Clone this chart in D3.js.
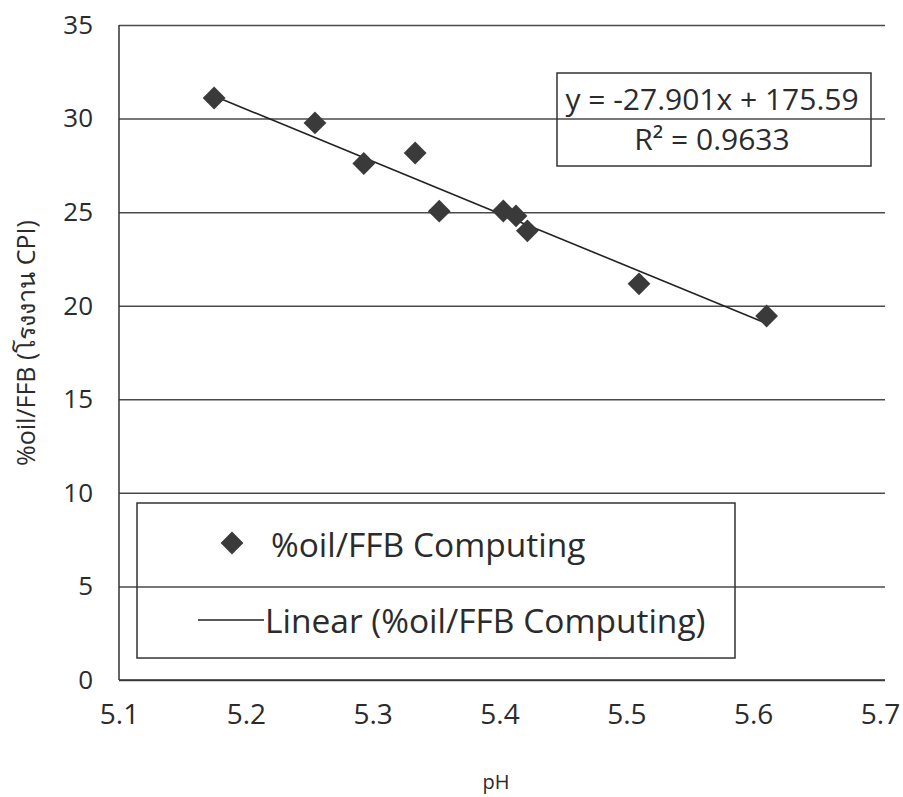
<!DOCTYPE html>
<html>
<head>
<meta charset="utf-8">
<script src="https://cdn.jsdelivr.net/npm/d3@7"></script>
<style>
  body { margin: 0; background: #fff; }
  svg { display: block; }
  text { font-family: "Open Sans", "Noto Sans", sans-serif; fill: #2b2b2b; }
</style>
</head>
<body>
<div id="chart"></div>
<script>
// pH vs %oil/FFB readings
const phValues  = [5.175, 5.2545, 5.293, 5.3335, 5.3525, 5.403, 5.413, 5.422, 5.510, 5.6106];
const oilValues = [31.1, 29.77, 27.6, 28.16, 25.05, 25.06, 24.8, 24.0, 21.17, 19.45];
const xTicks = [5.1, 5.2, 5.3, 5.4, 5.5, 5.6, 5.7];
const yTicks = [0, 5, 10, 15, 20, 25, 30, 35];
const slope = -27.901, intercept = 175.59;
const eqLines = ["y = -27.901x + 175.59", "R² = 0.9633"];
const legendLabels = ["%oil/FFB Computing", "Linear (%oil/FFB Computing)"];

var width = 903
var height = 797

var svg = d3.select("#chart").append("svg")
    .attr("width", width)
    .attr("height", height)

const data = phValues.map((x, i) => ({ x: x, y: oilValues[i] }));

const margin = {top: 25, right: 23, bottom: 117, left: 119};
const innerWidth = width - margin.left - margin.right;
const innerHeight = height - margin.top - margin.bottom;

const xScale = d3.scaleLinear()
    .domain([5.1, 5.7])
    .range([0, innerWidth]);

const yScale = d3.scaleLinear()
    .domain([0, 35])
    .range([innerHeight, 0]);

const g = svg.append("g")
    .attr("transform", `translate(${margin.left}, ${margin.top})`);

// horizontal gridlines, labels on the left
const yAxis = d3.axisLeft(yScale).tickValues(yTicks).tickSize(-innerWidth - 5).tickPadding(26);
const yAxisG = g.append("g").call(yAxis)
    .attr("font-size", 26)
    .attr("font-family", null);
yAxisG.select(".domain").remove();
yAxisG.selectAll("line").attr("stroke", "#4a4a4a").attr("stroke-width", 1.5);

// x axis labels below the bottom line
const xAxis = d3.axisBottom(xScale).tickValues(xTicks).tickSize(0).tickPadding(24)
    .tickFormat(d3.format(".1f"));
const xAxisG = g.append("g").call(xAxis)
    .attr("transform", `translate(0, ${innerHeight})`)
    .attr("font-size", 28)
    .attr("font-family", null);
xAxisG.select(".domain").remove();

g.append("line")
    .attr("x1", 0).attr("x2", innerWidth + 5)
    .attr("y1", innerHeight).attr("y2", innerHeight)
    .attr("stroke", "#333").attr("stroke-width", 1.5);

g.append("line")
    .attr("x1", 0).attr("x2", 0)
    .attr("y1", 0).attr("y2", innerHeight)
    .attr("stroke", "#333").attr("stroke-width", 1.5);

// trend line over the data range
const xExt = d3.extent(phValues);
const trend = xExt.map(x => ({ x: x, y: slope * x + intercept }));
g.append("path")
    .datum(trend)
    .attr("fill", "none")
    .attr("stroke", "#222")
    .attr("stroke-width", 1.6)
    .attr("d", d3.line().x(d => xScale(d.x)).y(d => yScale(d.y)));

// diamond markers
const diamond = d3.symbol().type(d3.symbolSquare).size(260);
g.selectAll(".pt").data(data)
    .enter().append("path")
    .attr("class", "pt")
    .attr("d", diamond)
    .attr("fill", "#3a3a3a")
    .attr("transform", d => `translate(${xScale(d.x)}, ${yScale(d.y)}) rotate(45)`);

// equation box
const eq = svg.append("g");
eq.append("rect")
    .attr("x", 557).attr("y", 73)
    .attr("width", 314).attr("height", 93)
    .attr("fill", "none").attr("stroke", "#333").attr("stroke-width", 1.5);
eq.selectAll("text").data(eqLines)
    .enter().append("text")
    .attr("x", 712)
    .attr("y", (d, i) => 110 + i * 40)
    .attr("text-anchor", "middle")
    .attr("font-size", 30)
    .text(d => d);

// legend
const leg = svg.append("g");
leg.append("rect")
    .attr("x", 137).attr("y", 503)
    .attr("width", 598).attr("height", 155)
    .attr("fill", "none").attr("stroke", "#333").attr("stroke-width", 1.5);
leg.append("path")
    .attr("d", diamond)
    .attr("fill", "#3a3a3a")
    .attr("transform", "translate(232, 543) rotate(45)");
leg.append("line")
    .attr("x1", 198).attr("x2", 264)
    .attr("y1", 620).attr("y2", 620)
    .attr("stroke", "#222").attr("stroke-width", 1.6);
leg.selectAll(".lt").data(legendLabels)
    .enter().append("text")
    .attr("class", "lt")
    .attr("x", (d, i) => i === 0 ? 271 : 265)
    .attr("y", (d, i) => i === 0 ? 557 : 633)
    .attr("font-size", 33.5)
    .text(d => d);

// axis titles
svg.append("text")
    .attr("x", 496)
    .attr("y", 789)
    .attr("text-anchor", "middle")
    .attr("font-size", 20)
    .text("pH");

svg.append("text")
    .attr("transform", "translate(35, 343) rotate(-90)")
    .attr("text-anchor", "middle")
    .attr("font-size", 25)
    .text("%oil/FFB (โรงงาน CPI)");
</script>
</body>
</html>
